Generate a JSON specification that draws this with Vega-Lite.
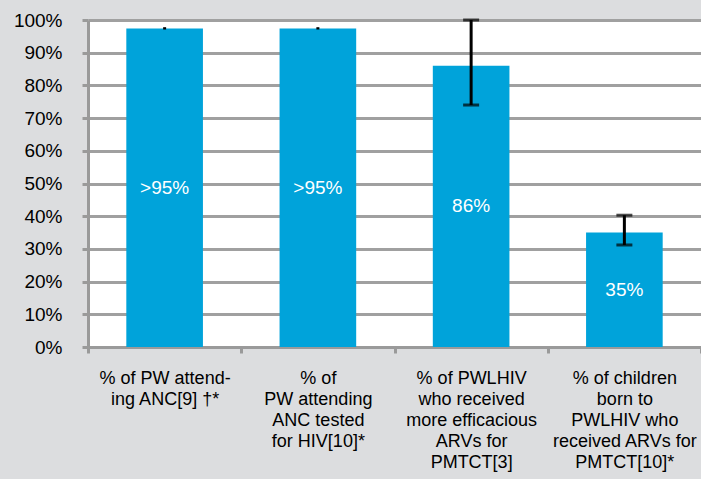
{
  "$schema": "https://vega.github.io/schema/vega-lite/v6.json",
  "width": 613,
  "height": 327,
  "autosize": {"type": "none"},
  "padding": {"left": 88, "top": 20, "right": 0, "bottom": 132},
  "background": "#DCDDDF",
  "config": {
    "view": {"fill": "white", "stroke": null},
    "font": "Liberation Sans",
    "axisY": {
      "labelFontSize": 19,
      "labelColor": "black",
      "labelPadding": 20,
      "labelOverlap": false,
      "gridColor": "#A0A0A0",
      "gridWidth": 3,
      "domainColor": "#9A9A9A",
      "domainWidth": 3,
      "tickColor": "#9A9A9A",
      "tickWidth": 3,
      "tickSize": 6
    }
  },
  "data": {
    "values": [
      {"cat": "c1", "value": 0.974, "lo": 0.971, "hi": 0.978, "label": ">95%"},
      {"cat": "c2", "value": 0.974, "lo": 0.971, "hi": 0.978, "label": ">95%"},
      {"cat": "c3", "value": 0.86, "lo": 0.74, "hi": 1.0, "label": "86%"},
      {"cat": "c4", "value": 0.35, "lo": 0.312, "hi": 0.403, "label": "35%"}
    ]
  },
  "encoding": {
    "x": {
      "field": "cat",
      "type": "nominal",
      "sort": null,
      "scale": {"paddingInner": 0, "paddingOuter": 0},
      "axis": {
        "title": null,
        "labelAngle": 0,
        "labelFontSize": 18,
        "labelColor": "black",
        "labelLineHeight": 21,
        "labelPadding": 16,
        "labelBaseline": "top",
        "labelOverlap": false,
        "labelExpr": "datum.value == 'c1' ? ['% of PW attend-', 'ing ANC[9] †*'] : datum.value == 'c2' ? ['% of', 'PW attending', 'ANC tested', 'for HIV[10]*'] : datum.value == 'c3' ? ['% of PWLHIV', 'who received', 'more efficacious', 'ARVs for', 'PMTCT[3]'] : datum.value == 'c4' ? ['% of children', 'born to', 'PWLHIV who', 'received ARVs for', 'PMTCT[10]*'] : ''",
        "domainColor": "#9A9A9A",
        "domainWidth": 3,
        "tickColor": "#9A9A9A",
        "tickWidth": 3,
        "tickSize": 6,
        "tickBand": "extent",
        "grid": false
      }
    }
  },
  "layer": [
    {
      "mark": {"type": "bar", "color": "#00A3DA", "width": {"band": 0.5}},
      "encoding": {
        "y": {
          "field": "value",
          "type": "quantitative",
          "scale": {"domain": [0, 1]},
          "axis": {"title": null, "format": ".0%", "values": [0, 0.1, 0.2, 0.3, 0.4, 0.5, 0.6, 0.7, 0.8, 0.9, 1.0]}
        }
      }
    },
    {
      "mark": {"type": "rule", "color": "black", "strokeWidth": 3},
      "encoding": {
        "y": {"field": "lo", "type": "quantitative", "scale": {"domain": [0, 1]}, "axis": {"title": null, "format": ".0%", "values": [0, 0.1, 0.2, 0.3, 0.4, 0.5, 0.6, 0.7, 0.8, 0.9, 1.0]}},
        "y2": {"field": "hi"}
      }
    },
    {
      "transform": [{"filter": "datum.hi - datum.lo > 0.02"}],
      "mark": {"type": "tick", "color": "black", "thickness": 3, "size": 16, "orient": "horizontal"},
      "encoding": {
        "y": {"field": "lo", "type": "quantitative", "scale": {"domain": [0, 1]}, "axis": {"title": null, "format": ".0%", "values": [0, 0.1, 0.2, 0.3, 0.4, 0.5, 0.6, 0.7, 0.8, 0.9, 1.0]}}
      }
    },
    {
      "transform": [{"filter": "datum.hi - datum.lo > 0.02"}],
      "mark": {"type": "tick", "color": "black", "thickness": 3, "size": 16, "orient": "horizontal"},
      "encoding": {
        "y": {"field": "hi", "type": "quantitative", "scale": {"domain": [0, 1]}, "axis": {"title": null, "format": ".0%", "values": [0, 0.1, 0.2, 0.3, 0.4, 0.5, 0.6, 0.7, 0.8, 0.9, 1.0]}}
      }
    },
    {
      "transform": [{"calculate": "datum.value / 2", "as": "mid"}],
      "mark": {"type": "text", "color": "white", "fontSize": 19, "baseline": "middle"},
      "encoding": {
        "y": {"field": "mid", "type": "quantitative", "scale": {"domain": [0, 1]}, "axis": {"title": null, "format": ".0%", "values": [0, 0.1, 0.2, 0.3, 0.4, 0.5, 0.6, 0.7, 0.8, 0.9, 1.0]}},
        "text": {"field": "label"}
      }
    }
  ]
}
